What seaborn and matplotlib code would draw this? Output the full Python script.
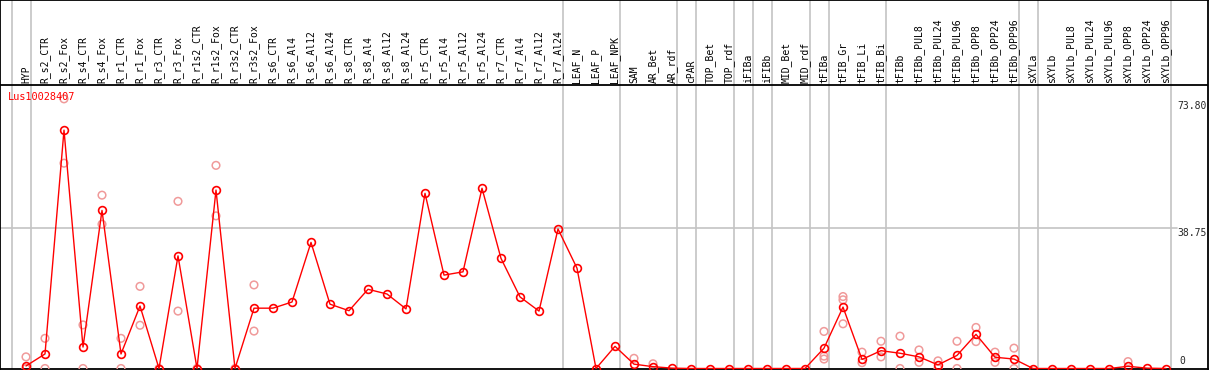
import matplotlib
matplotlib.use("Agg")
import matplotlib.pyplot as plt
import seaborn as sns
import numpy as np
import pandas as pd

# ---------------- data ----------------
title = "Lus10028407"

labels = ["HYP",
          "R_s2_CTR", "R_s2_Fox", "R_s4_CTR", "R_s4_Fox", "R_r1_CTR", "R_r1_Fox",
          "R_r3_CTR", "R_r3_Fox", "R_r1s2_CTR", "R_r1s2_Fox", "R_r3s2_CTR", "R_r3s2_Fox",
          "R_s6_CTR", "R_s6_Al4", "R_s6_Al12", "R_s6_Al24",
          "R_s8_CTR", "R_s8_Al4", "R_s8_Al12", "R_s8_Al24",
          "R_r5_CTR", "R_r5_Al4", "R_r5_Al12", "R_r5_Al24",
          "R_r7_CTR", "R_r7_Al4", "R_r7_Al12", "R_r7_Al24",
          "LEAF_N", "LEAF_P", "LEAF_NPK",
          "SAM", "AR_Bet", "AR_rdf",
          "cPAR",
          "TOP_Bet", "TOP_rdf",
          "iFIBa",
          "iFIBb",
          "MID_Bet", "MID_rdf",
          "tFIBa",
          "tFIB_Gr", "tFIB_Li", "tFIB_Bi",
          "tFIBb", "tFIBb_PUL8", "tFIBb_PUL24", "tFIBb_PUL96",
          "tFIBb_OPP8", "tFIBb_OPP24", "tFIBb_OPP96",
          "sXYLa",
          "sXYLb", "sXYLb_PUL8", "sXYLb_PUL24", "sXYLb_PUL96",
          "sXYLb_OPP8", "sXYLb_OPP24", "sXYLb_OPP96"]

# number of columns in each separated group
group_sizes = [1, 28, 3, 3, 1, 2, 1, 1, 2, 1, 3, 7, 1, 7]

means = [0.7, 4.0, 65.6, 5.9, 43.5, 4.0, 17.2, 0.0, 31.0, 0.0, 49.1, 0.0, 16.6,
         16.6, 18.3, 34.7, 17.7,
         15.9, 21.8, 20.5, 16.4,
         48.2, 25.7, 26.6, 49.6,
         30.3, 19.7, 15.8, 38.4,
         27.6, 0.0, 6.1,
         1.2, 0.5, 0.1,
         0.0,
         0.0, 0.0,
         0.0,
         0.0,
         0.0, 0.0,
         5.6,
         16.9, 2.5, 4.9,
         4.2, 3.2, 1.0, 3.6, 9.4, 3.1, 2.6,
         0.0,
         0.0, 0.0, 0.0, 0.0, 0.6, 0.1, 0.0]

replicates = [[3.2, 0.0], [8.3, 0.0], [74.2, 56.5], [12.0, 0.0], [47.7, 39.7],
              [8.3, 0.0], [22.6, 11.9], [0.0], [46.0, 15.8], [0.0], [55.9, 42.0],
              [0.0], [23.0, 10.3],
              [], [], [], [],
              [], [], [], [],
              [], [], [], [],
              [], [], [], [],
              [], [], [],
              [2.8], [1.3], [],
              [],
              [], [],
              [],
              [],
              [], [],
              [10.2, 3.4, 2.6],
              [19.8, 18.9, 12.3], [4.5, 1.6], [7.5, 3.2],
              [8.9, 0.0], [5.1, 1.7], [2.1, 0.0], [7.5, 0.0], [11.3, 7.4], [4.5, 1.7], [5.6, 0.0],
              [],
              [], [], [], [], [1.9], [], []]

ytick_values = [73.80, 38.75, 0]
ytick_labels = ["73.80", "38.75", "0"]

# ---------------- figure ----------------
sns.set_style("white")
plt.rcParams['font.family'] = ['DejaVu Sans Mono', 'DejaVu Sans']

W, H = 1209, 370
fig = plt.figure(figsize=(W / 100, H / 100), dpi=100)
ax = fig.add_axes([0, 1 / H, 1208 / W, 369 / H])

px_per_unit = 3.634
x0_px, step_px = 26, 19
zero_px = 368.5  # pixel row of value 0 (from top)
ax.set_xlim(-x0_px / step_px, (1208 - x0_px) / step_px)
ax.set_ylim(-(369 - zero_px) / px_per_unit, zero_px / px_per_unit)


def yval(px_row):
    return (zero_px - px_row) / px_per_unit


def xval(px_col):
    return (px_col - x0_px) / step_px


n = len(labels)
idx = np.arange(n)

# group separators
bounds = np.cumsum([0] + group_sizes)
sep_off = 4.5 / step_px
for b in bounds:
    ax.axvline(b - 1 + sep_off, color="#C4C4C4", lw=1.2, zorder=1)

# horizontal gridline
ax.plot([ax.get_xlim()[0], xval(1177)], [38.75, 38.75], color="#C4C4C4", lw=1.2, zorder=1)

# header separator line
ax.axhline(yval(85), color="black", lw=1.3, zorder=3)

# replicates
rep_x = [i for i, r in enumerate(replicates) for _ in r]
rep_y = [v for r in replicates for v in r]
sns.scatterplot(x=rep_x, y=rep_y, ax=ax, marker="o", s=30, facecolors="none",
                edgecolors="#F09A9A", linewidths=1.1, zorder=4, clip_on=True)

# means
df = pd.DataFrame({"x": idx, "y": means})
sns.lineplot(data=df, x="x", y="y", ax=ax, color="red", lw=1.0, marker="o",
             markersize=5.6, markerfacecolor="none", markeredgecolor="red",
             markeredgewidth=1.2, zorder=5)

# column labels
for i, lab in enumerate(labels):
    ax.text(i, yval(83), lab, rotation=90, ha="center", va="bottom",
            fontsize=7, color="black", zorder=6)

# title
ax.text(xval(8), yval(97), title, ha="left", va="center", fontsize=7.4,
        color="red", zorder=6)

# y tick labels on the right
for v, t in zip(ytick_values, ytick_labels):
    if v == 0:
        ax.text(xval(1179), v + 0.6, t, ha="left", va="bottom", fontsize=7, zorder=6)
    else:
        ax.text(xval(1177), v - 0.1, t, ha="left", va="top", fontsize=7, zorder=6)

ax.set_xticks([])
ax.set_yticks([])
ax.set_xlabel("")
ax.set_ylabel("")
for s in ax.spines.values():
    s.set_visible(True)
    s.set_color("black")
    s.set_linewidth(1.3)
ax.grid(False)

fig.savefig("out.png", dpi=100)
